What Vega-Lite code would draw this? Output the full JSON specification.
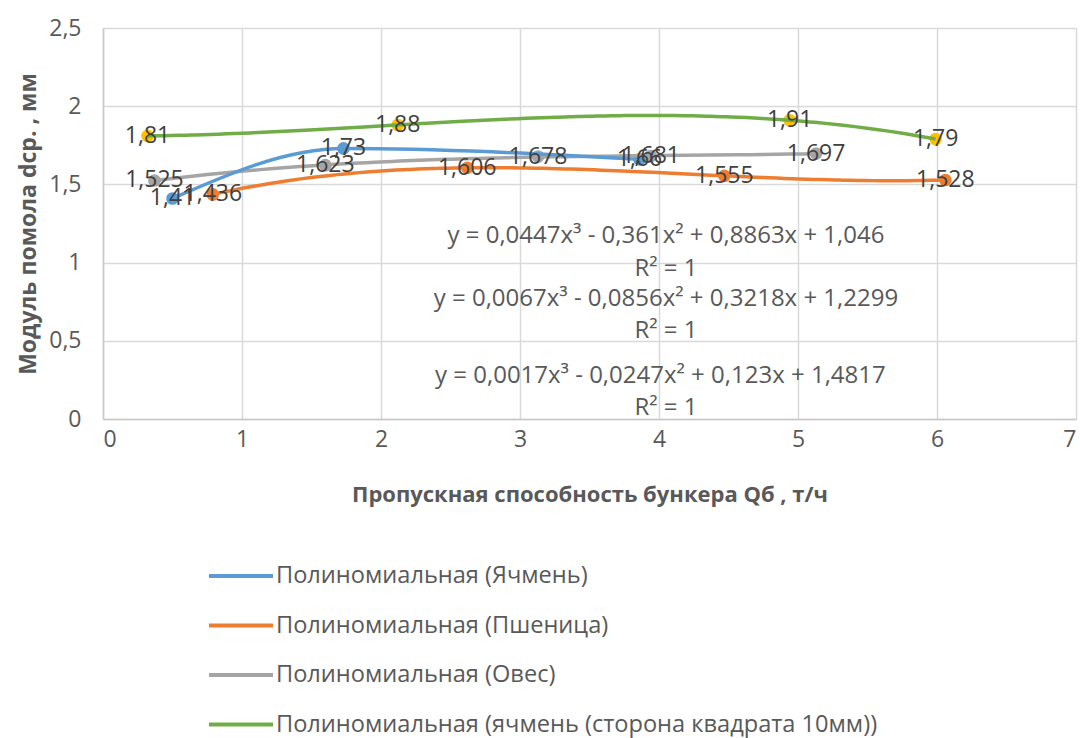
{
  "$schema": "https://vega.github.io/schema/vega-lite/v6.json",
  "width": 973,
  "height": 391,
  "autosize": "none",
  "padding": {"left": 103, "top": 28, "right": 4, "bottom": 319},
  "background": "white",
  "config": {
    "locale": {"number": {"decimal": ",", "thousands": "\u00a0", "grouping": [3], "currency": ["", ""]}},
    "font": "Open Sans",
    "view": {"stroke": null},
    "axis": {
      "grid": true,
      "gridColor": "#D9D9D9",
      "gridWidth": 1.5,
      "domainColor": "#C8C8C8",
      "domainWidth": 1.5,
      "ticks": false,
      "tickSize": 0,
      "labelFont": "Open Sans",
      "labelFontSize": 23,
      "labelColor": "#595959",
      "titleFont": "Open Sans",
      "titleFontSize": 22,
      "titleFontWeight": "bold",
      "titleColor": "#595959"
    },
    "legend": {
      "labelFont": "Open Sans",
      "labelFontSize": 23.6,
      "labelColor": "#595959",
      "labelLimit": 1000
    }
  },
  "datasets": {
    "pts": [
      {"series": "Ячмень", "q": 0.5, "d": 1.41},
      {"series": "Ячмень", "q": 1.73, "d": 1.73},
      {"series": "Ячмень", "q": 3.86, "d": 1.66},
      {"series": "Пшеница", "q": 0.79, "d": 1.436},
      {"series": "Пшеница", "q": 2.62, "d": 1.606},
      {"series": "Пшеница", "q": 4.47, "d": 1.555},
      {"series": "Пшеница", "q": 6.06, "d": 1.528},
      {"series": "Овес", "q": 0.37, "d": 1.525},
      {"series": "Овес", "q": 1.6, "d": 1.623},
      {"series": "Овес", "q": 3.13, "d": 1.678},
      {"series": "Овес", "q": 3.94, "d": 1.681},
      {"series": "Овес", "q": 5.13, "d": 1.697},
      {"series": "ячмень (сторона квадрата 10мм)", "q": 0.32, "d": 1.81},
      {"series": "ячмень (сторона квадрата 10мм)", "q": 2.12, "d": 1.88},
      {"series": "ячмень (сторона квадрата 10мм)", "q": 4.94, "d": 1.91},
      {"series": "ячмень (сторона квадрата 10мм)", "q": 5.99, "d": 1.79}
    ],
    "eq": [
      {"q": 4.05, "d": 1.17, "t": "y = 0,0447x³ - 0,361x² + 0,8863x + 1,046"},
      {"q": 4.05, "d": 0.959, "t": "R² = 1"},
      {"q": 4.05, "d": 0.767, "t": "y = 0,0067x³ - 0,0856x² + 0,3218x + 1,2299"},
      {"q": 4.05, "d": 0.563, "t": "R² = 1"},
      {"q": 4.01, "d": 0.275, "t": "y = 0,0017x³ - 0,0247x² + 0,123x + 1,4817"},
      {"q": 4.05, "d": 0.07, "t": "R² = 1"}
    ]
  },
  "layer": [
    {
      "data": {"name": "pts"},
      "mark": {"type": "circle", "size": 160, "opacity": 1},
      "encoding": {
        "x": {
          "field": "q", "type": "quantitative",
          "scale": {"domain": [0, 7], "nice": false},
          "axis": {"values": [0, 1, 2, 3, 4, 5, 6, 7], "format": "~g", "labelPadding": 9, "title": "Пропускная способность бункера Qб , т/ч", "titlePadding": 33}
        },
        "y": {
          "field": "d", "type": "quantitative",
          "scale": {"domain": [0, 2.5], "nice": false},
          "axis": {"values": [0, 0.5, 1, 1.5, 2, 2.5], "format": "~g", "labelPadding": 22, "title": "Модуль помола dcp. , мм", "titlePadding": 8, "titleFontSize": 23}
        },
        "fill": {
          "field": "series", "type": "nominal",
          "scale": {"domain": ["Пшеница", "Ячмень", "Овес", "ячмень (сторона квадрата 10мм)"], "range": ["#ED7D31", "#5B9BD5", "#A5A5A5", "#FFC000"]},
          "legend": null
        }
      }
    },
    {
      "data": {"name": "pts"},
      "transform": [
        {"filter": "datum.series !== 'Ячмень'"},
        {"regression": "d", "on": "q", "groupby": ["series"], "method": "poly", "order": 3}
      ],
      "mark": {"type": "line", "strokeWidth": 3.5},
      "encoding": {
        "x": {"field": "q", "type": "quantitative"},
        "y": {"field": "d", "type": "quantitative"},
        "color": {
          "field": "series", "type": "nominal",
          "scale": {"domain": ["Ячмень", "Пшеница", "Овес", "ячмень (сторона квадрата 10мм)"], "range": ["#5B9BD5", "#ED7D31", "#A5A5A5", "#70AD47"]},
          "legend": {
            "title": null,
            "orient": "none",
            "legendX": 104,
            "legendY": 514,
            "direction": "vertical",
            "symbolType": "stroke",
            "symbolSize": 4096,
            "symbolStrokeWidth": 4,
            "rowPadding": 3.5,
            "labelOffset": 1,
            "padding": 0,
            "labelExpr": "'Полиномиальная (' + datum.label + ')'"
          }
        }
      }
    },
    {
      "data": {"name": "pts"},
      "transform": [{"filter": "datum.series === 'Ячмень'"}],
      "mark": {"type": "line", "strokeWidth": 3.5, "interpolate": "monotone"},
      "encoding": {
        "x": {"field": "q", "type": "quantitative"},
        "y": {"field": "d", "type": "quantitative"},
        "color": {"field": "series", "type": "nominal"}
      }
    },
    {
      "data": {"name": "pts"},
      "mark": {"type": "text", "fontSize": 23, "color": "#404040", "align": "center", "baseline": "middle", "font": "Open Sans"},
      "encoding": {
        "x": {"field": "q", "type": "quantitative"},
        "y": {"field": "d", "type": "quantitative"},
        "text": {"field": "d", "type": "quantitative", "format": "~g"}
      }
    },
    {
      "data": {"name": "eq"},
      "mark": {"type": "text", "fontSize": 24, "color": "#595959", "align": "center", "baseline": "middle", "font": "Open Sans"},
      "encoding": {
        "x": {"field": "q", "type": "quantitative"},
        "y": {"field": "d", "type": "quantitative"},
        "text": {"field": "t", "type": "nominal"}
      }
    }
  ]
}
